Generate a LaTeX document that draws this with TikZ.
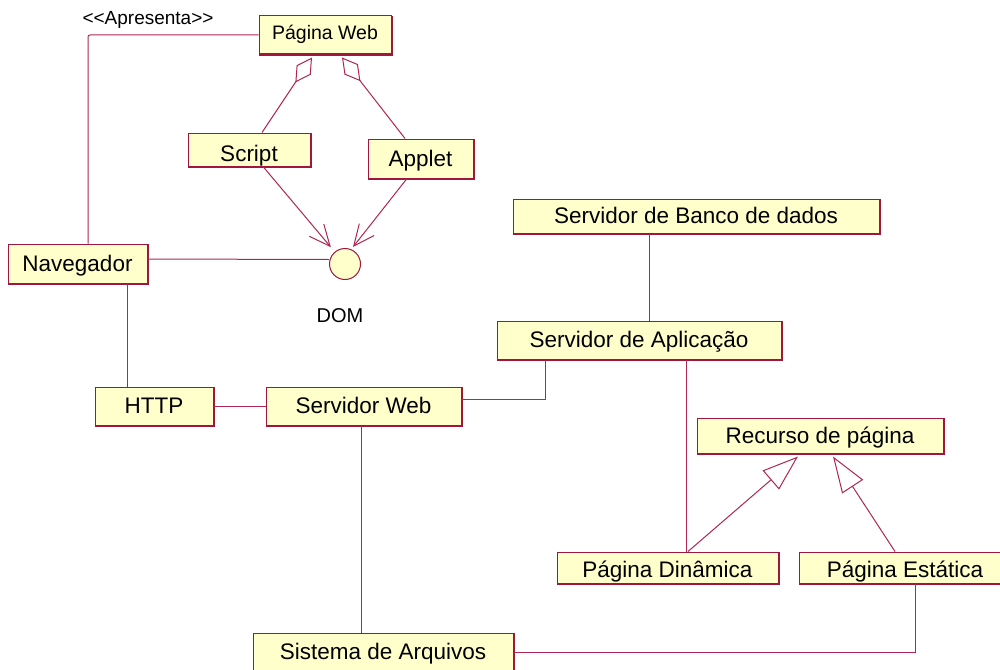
\documentclass[tikz,border=0pt]{standalone}
\usepackage{fontspec}
\setmainfont{Liberation Sans}
\usetikzlibrary{arrows.meta}
\definecolor{boxborder}{HTML}{A0163F}
\definecolor{linkcol}{HTML}{B02552}
\definecolor{boxfill}{HTML}{FFFFCC}
\tikzset{
  cls/.style={draw=boxborder, line width=1pt, fill=boxfill, inner sep=0pt,
    font=\fontsize{22.5pt}{26pt}\selectfont, text height=15pt, text depth=0pt,
    append after command={\pgfextra{%
      \draw[boxborder, line width=1.4pt]
        ([shift={(0.6pt,-0.6pt)}]\tikzlastnode.south west) --
        ([shift={(0.6pt,-0.6pt)}]\tikzlastnode.south east) --
        ([shift={(0.6pt,-0.6pt)}]\tikzlastnode.north east);}}},
  conn/.style={draw=linkcol, line width=1pt},
  agg/.style={conn, {Diamond[open, length=30pt, width=17pt]}-},
  dep/.style={conn, -{Straight Barb[length=21pt, width=19pt]}},
  gen/.style={conn, -{Triangle[open, length=36pt, width=25pt]}},
  iface/.style={circle, draw=boxborder, line width=1pt, fill=boxfill, minimum size=31pt, inner sep=0pt},
  smalltext/.style={font=\fontsize{19pt}{22pt}\selectfont, inner sep=0pt}
}
\begin{document}
\begin{tikzpicture}[x=1pt, y=-1pt]
\useasboundingbox (0,0) rectangle (1000,669);

% classes
\node[cls, minimum width=132pt, minimum height=38pt, font=\fontsize{19.5pt}{22pt}\selectfont, text height=9pt] (pw) at (325,35) {Página Web};
\node[cls, minimum width=122pt, minimum height=33pt, text height=23pt] (script) at (249,149.5) {Script};
\node[cls, minimum width=105pt, minimum height=39pt] (applet) at (420.5,158.5) {Applet};
\node[cls, minimum width=139pt, minimum height=39pt] (nav) at (77.5,263.5) {Navegador};
\node[cls, minimum width=118pt, minimum height=38pt] (http) at (154,406) {HTTP};
\node[cls, minimum width=195pt, minimum height=38pt] (sweb) at (363.5,406) {Servidor Web};
\node[cls, minimum width=366pt, minimum height=34pt] (sbd) at (696,216) {Servidor de Banco de dados};
\node[cls, minimum width=284pt, minimum height=38pt] (sapp) at (639,340) {Servidor de Aplicação};
\node[cls, minimum width=246pt, minimum height=35pt] (rec) at (820,435.5) {Recurso de página};
\node[cls, minimum width=221pt, minimum height=31pt, text height=19pt] (pdin) at (667.5,567.5) {Página Dinâmica};
\node[cls, minimum width=212pt, minimum height=31pt, text height=19pt] (pest) at (905,567.5) {Página Estática};
\node[cls, minimum width=260pt, minimum height=38pt] (sarq) at (383,652) {Sistema de Arquivos};

% interface
\node[iface] (dom) at (345,264) {};
\node[smalltext, font=\fontsize{20pt}{22pt}\selectfont] (domlbl) at (340,316) {DOM};

% stereotype label
\node[smalltext] (apr) at (148,20) {<{}<Apresenta>{}>};

% presents
\draw[conn, rounded corners=2pt] (pw.west) -| ([xshift=10.5pt]nav.north);

% aggregations
\draw[agg] ([xshift=-13pt, yshift=-3pt]pw.south) -- ([xshift=13pt]script.north);
\draw[agg] ([xshift=17pt, yshift=-3pt]pw.south) -- ([xshift=-15.5pt]applet.north);

% dependencies on DOM
\draw[dep, shorten >=22pt] ([xshift=14pt]script.south) -- (dom.center);
\draw[dep] ([xshift=-13.5pt]applet.south) -- ([xshift=8pt, yshift=17pt]dom.center);

% associations
\draw[conn] ([yshift=4.5pt]nav.east) -- ([yshift=4.5pt]dom.west);
\draw[conn] ([xshift=49.5pt]nav.south) -- ([xshift=49.5pt]nav.south |- http.north);
\draw[conn] (http.east) -- (sweb.west);
\draw[conn] ([yshift=7pt]sweb.east) -| ([xshift=-94pt]sapp.south);
\draw[conn] ([xshift=-2.5pt]sweb.south) -- ([xshift=-2.5pt]sweb.south |- sarq.north);
\draw[conn] ([xshift=-47pt]sbd.south) -- ([xshift=-47pt]sbd.south |- sapp.north);
\draw[conn] ([xshift=47pt]sapp.south) -- ([xshift=47pt]sapp.south |- pdin.north);
\draw[conn] (sarq.east) -| ([xshift=10pt]pest.south);

% generalizations
\draw[gen] ([xshift=20.5pt]pdin.north) -- ([xshift=-22pt, yshift=-3pt]rec.south);
\draw[gen] ([xshift=-10pt]pest.north) -- ([xshift=13pt, yshift=-3pt]rec.south);
\end{tikzpicture}
\end{document}
